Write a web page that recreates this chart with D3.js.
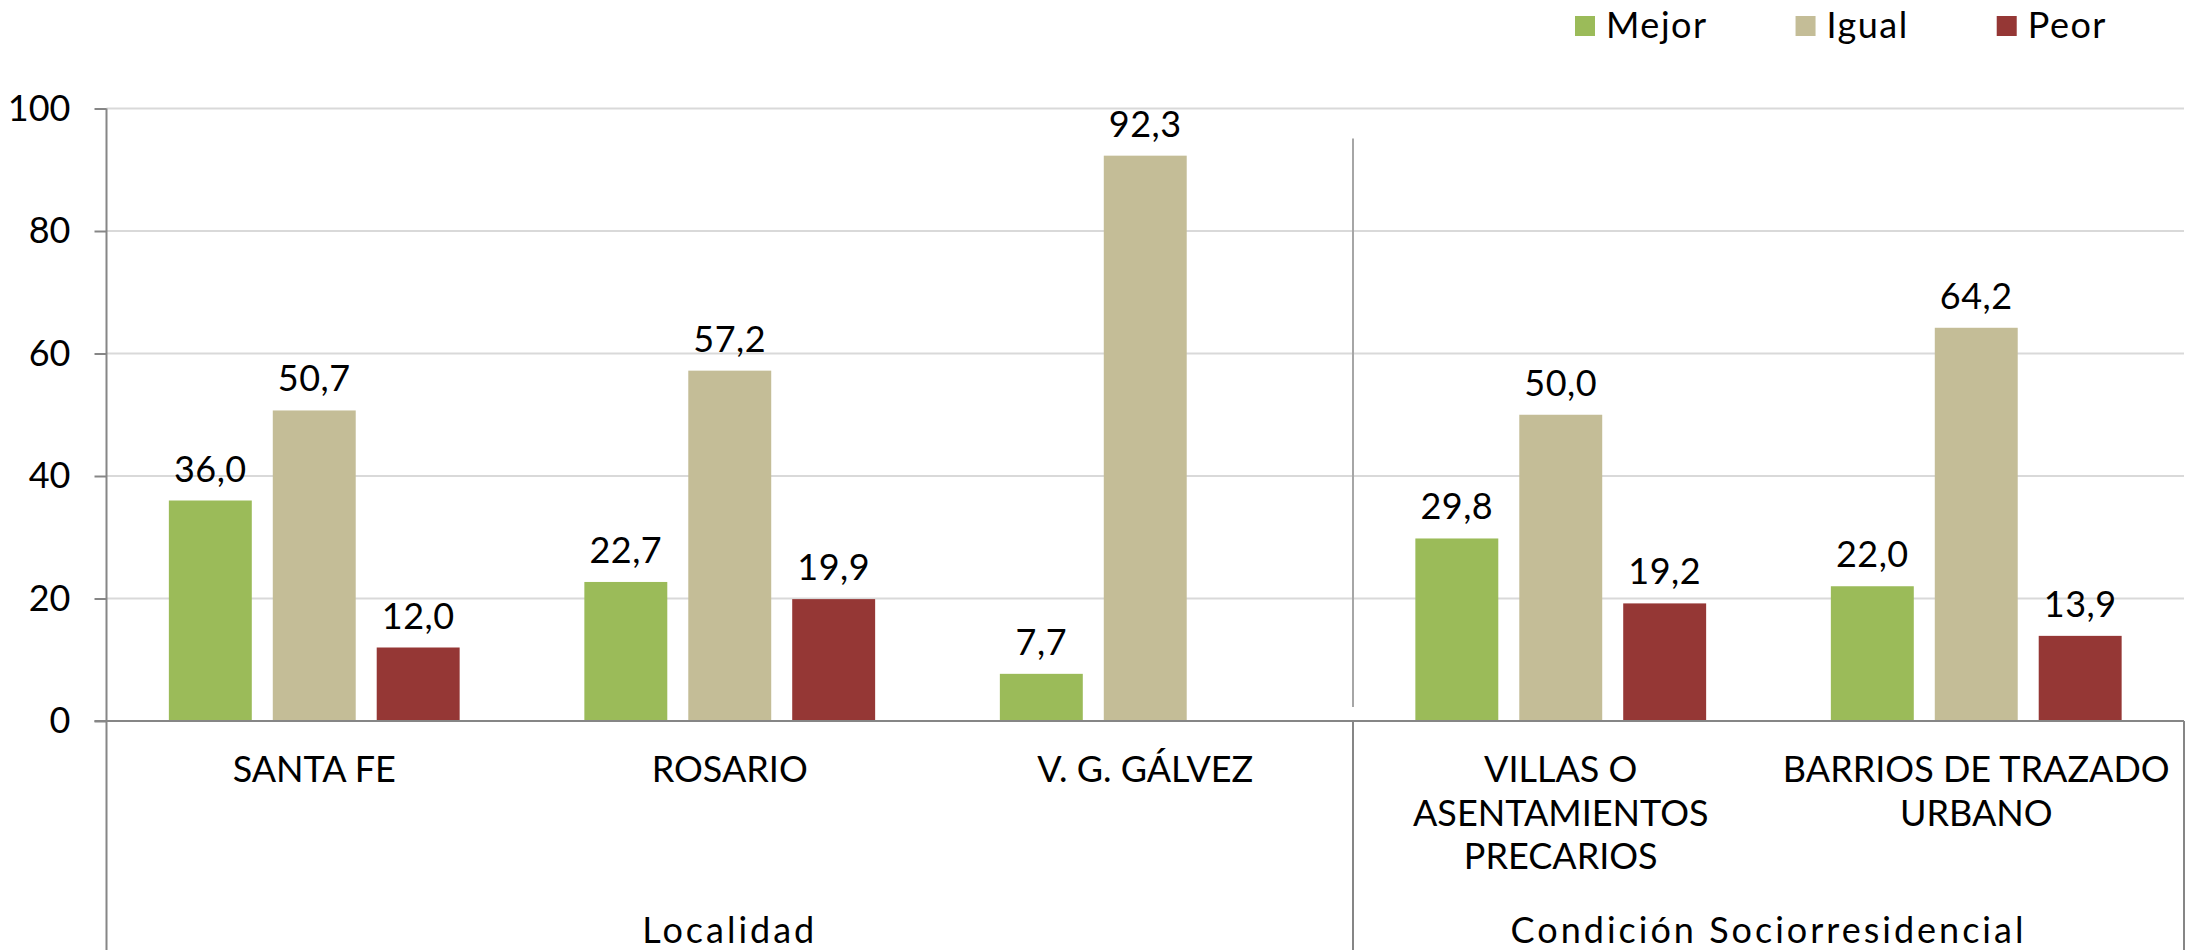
<!DOCTYPE html>
<html>
<head>
<meta charset="utf-8">
<script src="https://cdn.jsdelivr.net/npm/d3@7"></script>
<style>
  body { margin: 0; background: #fff; }
  text { font-family: Lato, "Open Sans", sans-serif; fill: #000; }
</style>
</head>
<body>
<div id="chart"></div>
<script>
// Comparación: Mejor / Igual / Peor por localidad y condición sociorresidencial

// data
const categories = [
  ["SANTA FE"],
  ["ROSARIO"],
  ["V. G. GÁLVEZ"],
  ["VILLAS O", "ASENTAMIENTOS", "PRECARIOS"],
  ["BARRIOS DE TRAZADO", "URBANO"]
];
const series = ["Mejor", "Igual", "Peor"];
const mejor = [36.0, 22.7, 7.7, 29.8, 22.0];
const igual = [50.7, 57.2, 92.3, 50.0, 64.2];
const peor  = [12.0, 19.9, null, 19.2, 13.9];
const yTicks = [0, 20, 40, 60, 80, 100];
const groups = [
  {label: "Localidad", from: 0, to: 3},
  {label: "Condición Sociorresidencial", from: 3, to: 5}
];
const colors = ["#9BBB59", "#C4BD97", "#953735"];

// set the dimensions and margins of the graph
const W = 2199, H = 950;
const margin = {top: 108.5, right: 15, bottom: 229, left: 106.5},
    width = W - margin.left - margin.right,
    height = H - margin.top - margin.bottom;

const svg = d3.select("#chart")
  .append("svg")
    .attr("width", W)
    .attr("height", H);

const g = svg.append("g")
    .attr("transform", `translate(${margin.left}, ${margin.top})`);

// rows for the bars
const rows = categories.map(function(c, i) {
  return {idx: i, values: [mejor[i], igual[i], peor[i]]};
});

// scales
const x0 = d3.scaleBand()
  .domain(d3.range(categories.length))
  .range([0, width])
  .padding(0);

const x1 = d3.scaleBand()
  .domain(series)
  .range([0, x0.bandwidth()])
  .paddingInner(0.202)
  .paddingOuter(0.6);

const y = d3.scaleLinear()
  .domain([0, 100])
  .range([height, 0]);

const color = d3.scaleOrdinal().domain(series).range(colors);

// gridlines
g.append("g")
  .selectAll("line")
  .data(yTicks.filter(function(d) { return d > 0; }))
  .join("line")
    .attr("x1", 0)
    .attr("x2", width)
    .attr("y1", function(d) { return y(d); })
    .attr("y2", function(d) { return y(d); })
    .attr("stroke", "#d9d9d9")
    .attr("stroke-width", 2);

// separator between the two groups (inside plot)
g.append("line")
  .attr("x1", x0(groups[1].from))
  .attr("x2", x0(groups[1].from))
  .attr("y1", y(100) + 30)
  .attr("y2", height - 14)
  .attr("stroke", "#a6a6a6")
  .attr("stroke-width", 2);

// bars
const grp = g.selectAll(".grp")
  .data(rows)
  .join("g")
    .attr("class", "grp")
    .attr("transform", function(d) { return `translate(${x0(d.idx)}, 0)`; });

const cells = grp.selectAll("g.cell")
  .data(function(d) {
    return series.map(function(s, k) { return {key: s, value: d.values[k]}; })
      .filter(function(e) { return e.value != null; });
  })
  .join("g")
    .attr("class", "cell");

cells.append("rect")
    .attr("x", function(d) { return x1(d.key); })
    .attr("y", function(d) { return y(d.value); })
    .attr("width", x1.bandwidth())
    .attr("height", function(d) { return height - y(d.value); })
    .attr("fill", function(d) { return color(d.key); });

cells.append("text")
    .attr("x", function(d) { return x1(d.key) + x1.bandwidth() / 2; })
    .attr("y", function(d) { return y(d.value) - 19; })
    .attr("text-anchor", "middle")
    .style("font-size", "36px")
    .style("letter-spacing", "0.5px")
    .text(function(d) { return d.value.toFixed(1).replace(".", ","); });

// Y axis
const yAxis = g.append("g")
  .call(d3.axisLeft(y).tickValues(yTicks).tickSize(12).tickPadding(24).tickFormat(d3.format("d")));
yAxis.select(".domain").remove();
yAxis.selectAll(".tick line").attr("stroke", "#868686").attr("stroke-width", 2);
yAxis.selectAll(".tick text").style("font-size", "36px").attr("fill", "#000").attr("font-family", null);

// axis lines
g.append("line")
  .attr("x1", 0).attr("x2", 0)
  .attr("y1", y(100)).attr("y2", H - margin.top)
  .attr("stroke", "#868686").attr("stroke-width", 2);
g.append("line")
  .attr("x1", -12).attr("x2", width)
  .attr("y1", height).attr("y2", height)
  .attr("stroke", "#868686").attr("stroke-width", 2);

// vertical lines in the category area
g.selectAll(".vsep")
  .data(groups)
  .join("line")
    .attr("class", "vsep")
    .attr("x1", function(d) { return x0(d.to - 1) + x0.bandwidth(); })
    .attr("x2", function(d) { return x0(d.to - 1) + x0.bandwidth(); })
    .attr("y1", height)
    .attr("y2", H - margin.top)
    .attr("stroke", "#868686")
    .attr("stroke-width", 2);

// category labels
const catLab = g.selectAll(".cat")
  .data(categories)
  .join("text")
    .attr("class", "cat")
    .attr("text-anchor", "middle")
    .style("font-size", "36px");
catLab.each(function(lines, i) {
  d3.select(this).selectAll("tspan")
    .data(lines)
    .join("tspan")
      .attr("x", x0(i) + x0.bandwidth() / 2)
      .attr("y", function(d, k) { return height + 61 + k * 43.5; })
      .text(function(d) { return d; });
});

// group labels
g.selectAll(".glab")
  .data(groups)
  .join("text")
    .attr("class", "glab")
    .attr("text-anchor", "middle")
    .attr("x", function(d) { return (x0(d.from) + x0(d.to - 1) + x0.bandwidth()) / 2; })
    .attr("y", H - margin.top - 7)
    .style("font-size", "36px")
    .style("letter-spacing", "3px")
    .text(function(d) { return d.label; });

// legend
const legend = svg.append("g").attr("transform", "translate(1575, 0)");
let lx = 0;
series.forEach(function(s) {
  const item = legend.append("g").attr("transform", `translate(${lx}, 0)`);
  item.append("rect")
    .attr("x", 0).attr("y", 16)
    .attr("width", 20).attr("height", 20)
    .attr("fill", color(s));
  const t = item.append("text")
    .attr("x", 31).attr("y", 38)
    .style("font-size", "36px")
    .style("letter-spacing", "1.5px")
    .text(s);
  lx += 31 + t.node().getComputedTextLength() + 88;
});
</script>
</body>
</html>
